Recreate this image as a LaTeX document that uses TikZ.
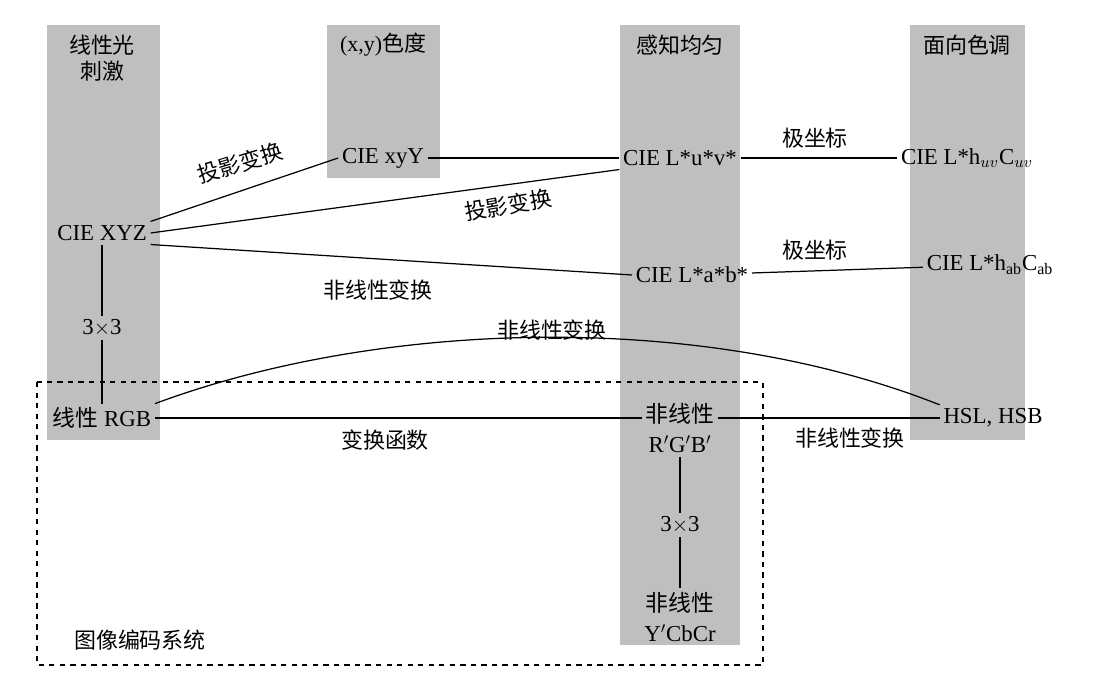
\documentclass[tikz,border=0pt]{standalone}
\usepackage{fontspec}
\setmainfont{Liberation Serif}
\newfontfamily\cjk{Noto Sans CJK SC}
\usetikzlibrary{positioning}

\tikzset{
  band/.style={fill=black!25,draw=none},
  lbl/.style={font=\cjk\fontsize{12.5}{15}\selectfont,inner sep=1pt},
  sys/.style={font=\fontsize{13}{15}\selectfont,inner sep=2pt},
  link/.style={draw=black,line width=0.7pt}
}

\begin{document}
\begin{tikzpicture}[x=0.02cm,y=-0.02cm]
\useasboundingbox[fill=white] (0,0) rectangle (1100,692);

% grey columns
\fill[band] (47,25) rectangle (160,440);
\fill[band] (327,25) rectangle (440,178);
\fill[band] (620,25) rectangle (740,645);
\fill[band] (910,25) rectangle (1025,440);

% dashed frame
\draw[dashed,line width=0.7pt] (37,382) rectangle (763,665);

% column headings
\node[lbl,align=center] (hlin) at (102,58) {线性光\\刺激};
\node[lbl] (hxy) at (383,45) {\rmfamily(x,y)\cjk 色度};
\node[lbl] (hper) at (680,45) {感知均匀};
\node[lbl] (hhue) at (967,45) {面向色调};

% colour systems
\node[sys] (xyz) at (102,233) {CIE XYZ};
\node[sys] (xyy) at (383,158) {CIE xyY};
\node[sys] (luv) at (680,158) {CIE L*u*v*};
\node[sys] (lhuv) at (967,158) {CIE L*h$_{uv}$C$_{uv}$};
\node[sys] (lab) at (692,275) {CIE L*a*b*};
\node[sys] (lhab) at (990,265) {CIE L*h$_{\mathrm{ab}}$C$_{\mathrm{ab}}$};
\node[sys] (m1) at (102,328) {3$\times$3};
\node[sys] (rgb) at (102,418) {\cjk 线性\rmfamily\ RGB};
\node[sys,align=center,font=\fontsize{13}{17}\selectfont] (nrgb) at (680,428) {\cjk 非线性\\R$'$G$'$B$'$};
\node[sys] (m2) at (680,525) {3$\times$3};
\node[sys,align=center,font=\fontsize{13}{17}\selectfont] (ycc) at (680,617) {\cjk 非线性\\Y$'$CbCr};
\node[sys] (hsl) at (993,418) {HSL, HSB};
\node[lbl] (sysname) at (140,640) {图像编码系统};

% connections
\draw[link] (xyz.north east) -- (xyy.west);
\draw[link] (xyz.east) -- (luv.south west);
\draw[link] (xyz.south east) -- (lab.west);
\draw[link] (xyy) -- (luv);
\draw[link] (luv) -- (lhuv);
\draw[link] (lab) -- (lhab);
\draw[link] (xyz) -- (m1) -- (rgb);
\draw[link] (nrgb) -- (m2) -- (ycc);
\draw[link] (rgb) -- (nrgb.west |- rgb);
\draw[link] (nrgb.east |- rgb) -- (hsl);
\draw[link] (rgb.north east) .. controls (380,320) and (700,310) .. (hsl.north west);

% transform labels
\node[lbl,rotate=17] (t1) at (240,163) {投影变换};
\node[lbl,rotate=10] (t2) at (508,205) {投影变换};
\node[lbl] (t3) at (378,290) {非线性变换};
\node[lbl] (t4) at (815,138) {极坐标};
\node[lbl] (t5) at (815,250) {极坐标};
\node[lbl] (t6) at (552,330) {非线性变换};
\node[lbl] (t7) at (385,440) {变换函数};
\node[lbl] (t8) at (850,438) {非线性变换};
\end{tikzpicture}
\end{document}
